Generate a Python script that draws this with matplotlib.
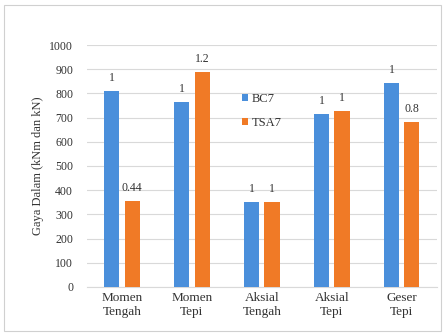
import numpy as np
import matplotlib
matplotlib.use("Agg")
import matplotlib.pyplot as plt
from matplotlib.patches import Rectangle

plt.rcParams['font.family'] = ['Liberation Serif', 'DejaVu Serif']

# Forces per member location
categories = ["Momen\nTengah", "Momen\nTepi", "Aksial\nTengah", "Aksial\nTepi", "Geser\nTepi"]
bc7 = [808, 764, 352, 715, 843]
tsa7 = [356, 888, 352, 727, 682]
bc7_labels = ["1", "1", "1", "1", "1"]
tsa7_labels = ["0.44", "1.2", "1", "1", "0.8"]

blue = "#4A8FDB"
orange = "#F07A26"

fig = plt.figure(figsize=(4.48, 3.36), dpi=100)
ax = fig.add_axes([0.194, 0.146, 0.781, 0.72])

x = np.arange(len(categories))
w = 0.215
off = 0.145
b1 = ax.bar(x - off, bc7, w, color=blue, label="BC7", zorder=3)
b2 = ax.bar(x + off, tsa7, w, color=orange, label="TSA7", zorder=3)

for rect, txt in zip(b1, bc7_labels):
    ax.text(rect.get_x() + rect.get_width() / 2, rect.get_height() + 30, txt,
            ha="center", va="bottom", fontsize=8.5, color="#333333")
for rect, txt in zip(b2, tsa7_labels):
    ax.text(rect.get_x() + rect.get_width() / 2, rect.get_height() + 30, txt,
            ha="center", va="bottom", fontsize=8.5, color="#333333")

ax.set_xlim(-0.5, len(categories) - 0.5)
ax.set_ylim(0, 1000)
ax.set_yticks(np.arange(0, 1001, 100))
ax.set_xticks(x)
ax.set_xticklabels(categories, fontsize=9.5, color="#333333")
ax.tick_params(axis="y", labelsize=8.5, colors="#333333", length=0, pad=10)
ax.tick_params(axis="x", length=0, pad=4)
ax.grid(axis="y", color="#D9D9D9", linewidth=0.8, zorder=0)
for s in ["top", "right", "left"]:
    ax.spines[s].set_visible(False)
ax.spines["bottom"].set_color("#D9D9D9")

ax.set_ylabel("Gaya Dalam (kNm dan kN)", fontsize=9, color="#333333", labelpad=4)

ax.legend(loc="upper left", bbox_to_anchor=(0.41, 0.85), frameon=False,
          fontsize=9, handlelength=0.5, handleheight=0.5, labelspacing=1.0,
          handletextpad=0.3, labelcolor="#333333")

fig.patches.append(Rectangle((0.01, 0.015), 0.975, 0.97, transform=fig.transFigure,
                             fill=False, edgecolor="#D0D0D0", linewidth=0.8))

fig.savefig("out.png", dpi=100)
